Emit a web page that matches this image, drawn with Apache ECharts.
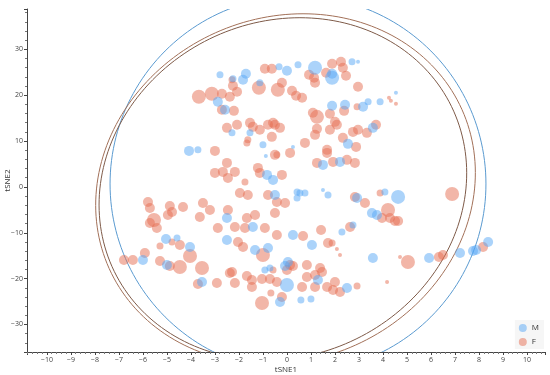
<!DOCTYPE html>
<html><head><meta charset="utf-8">
<script src="https://cdn.jsdelivr.net/npm/echarts@6/dist/echarts.min.js"></script>
<style>html,body{margin:0;padding:0;background:#fff}#c{width:550px;height:375px}</style>
</head><body><div id="c"></div>
<script>
// [tSNE1, tSNE2, sizeClass]
const maleData = [[-2.79,24.45,2],[-1.71,24.67,3],[-1.83,23.36,3],[-2.25,23.58,2],[0,25.33,3],[-0.33,26.2,2],[0.46,26.64,2],[1.17,25.98,4],[1.88,24.67,3],[1.88,23.8,4],[2.71,27.29,2],[2.96,27.29,1],[-1.13,22.7,2],[-2.88,18.56,3],[-2.58,16.81,3],[-1.54,11.79,2],[-2.29,11.79,2],[-1.0,9.17,2],[-4.08,7.86,3],[-3.71,8.08,2],[-0.88,6.77,1],[0.25,8.73,1],[1.88,17.69,3],[2.42,17.9,3],[3.17,17.47,3],[3.38,18.56,2],[3.88,18.56,2],[4.54,20.52,1],[3.58,12.88,3],[2.54,9.39,3],[-2.5,-6.77,3],[-5.04,-11.35,3],[-4.58,-11.14,2],[-4.04,-13.1,3],[-6.0,-15.94,3],[-5.0,-17.03,3],[-2.5,-11.57,3],[-0.83,2.62,3],[-0.58,1.53,3],[1.5,4.8,3],[2.21,5.46,3],[-0.5,-1.75,3],[0.42,-1.09,2],[0.54,-1.31,2],[0.75,-1.31,2],[0.42,-2.4,2],[1.5,-0.66,1],[1.71,-1.75,2],[2.92,-2.4,3],[-1.42,-8.73,3],[0.25,-10.48,3],[1.04,-12.66,3],[2.29,-9.83,2],[2.75,-8.3,2],[-1.33,-13.76,3],[-0.79,-13.32,3],[-0.71,-17.69,2],[0.04,-16.38,3],[4.08,-1.09,2],[4.63,-2.18,4],[3.54,-5.68,3],[3.75,-6.11,3],[3.58,-15.5,3],[5.92,-15.5,3],[7.21,-14.41,3],[7.75,-13.97,3],[7.88,-13.76,3],[8.38,-12.0,3],[-0.92,-18.12,2],[-0.08,-17.25,3],[0,-21.4,4],[1.29,-20.3,3],[2.5,-22.05,3],[-0.29,-25.1,3],[0.58,-24.67,2],[1.0,-24.45,2],[-3.54,-20.74,3]];
const femaleData = [[-2.29,23.36,2],[-0.92,25.76,3],[-0.63,25.76,3],[0.92,24.45,3],[1.13,23.8,3],[1.63,24.89,3],[1.88,26.86,3],[2.25,27.29,3],[2.33,25.98,3],[2.46,24.24,3],[-2.25,22.05,3],[-3.67,19.65,4],[-3.13,20.31,4],[-2.71,20.31,3],[-2.38,19.65,3],[-2.08,20.74,3],[-2.21,16.59,3],[-2.71,16.81,3],[-1.17,21.62,4],[-0.21,22.7,3],[-0.38,21.18,4],[0.21,20.96,3],[0.38,19.87,3],[0.63,19.43,3],[1.17,22.7,3],[2.96,21.83,3],[2.38,16.59,3],[2.92,17.47,2],[4.25,19.43,1],[4.33,18.78,1],[4.54,18.12,1],[-2.5,12.88,3],[-2.08,13.54,3],[-1.54,13.97,3],[-1.42,13.1,3],[-1.13,12.45,3],[-0.79,13.54,3],[-0.5,13.54,3],[-0.63,10.92,3],[-1.63,10.26,2],[-1.67,9.6,2],[-3.0,7.86,3],[-0.58,13.97,3],[-0.29,12.88,3],[1.25,15.28,4],[1.08,16.16,3],[1.79,15.94,3],[2.0,14.19,3],[1.25,12.66,3],[1.17,11.35,3],[1.79,12.45,3],[2.08,13.54,3],[2.33,10.7,3],[2.75,12.0,3],[2.96,12.45,3],[3.33,11.79,3],[3.71,13.54,3],[2.88,8.73,3],[1.67,8.08,3],[0.75,9.6,3],[0.13,7.42,3],[-0.5,6.99,3],[-5.79,-3.28,3],[-5.71,-4.59,3],[-4.88,-4.15,3],[-4.79,-5.46,3],[-4.96,-6.11,3],[-4.33,-4.37,3],[-3.5,-3.49,3],[-3.63,-6.55,3],[-3.21,-5.02,3],[-5.54,-7.21,4],[-5.71,-7.86,3],[-5.42,-8.95,3],[-2.88,-8.95,3],[-4.79,-12.0,2],[-4.46,-12.66,3],[-5.29,-12.88,2],[-4.04,-15.07,4],[-6.79,-15.94,3],[-6.42,-15.94,3],[-5.92,-14.41,3],[-5.29,-16.16,3],[-4.88,-17.25,3],[-4.46,-17.47,4],[-3.54,-17.69,4],[-3.0,3.06,3],[-2.67,3.28,3],[-2.46,1.97,3],[-2.5,5.24,3],[-2.17,3.28,3],[-1.21,4.15,3],[-1.13,3.06,3],[-0.21,2.62,3],[-1.75,1.09,2],[-0.42,6.99,2],[1.25,5.24,3],[1.67,7.42,3],[1.92,5.46,3],[2.5,5.9,3],[2.83,5.24,3],[-1.96,-1.31,3],[-1.63,-1.75,3],[-0.79,-1.75,3],[-0.08,-3.49,3],[-0.42,-3.28,3],[-2.46,-5.02,3],[-1.67,-6.77,3],[-1.75,-8.95,3],[-1.33,-6.11,3],[-2.17,-8.73,3],[-0.5,-5.68,3],[-0.92,-8.95,3],[-0.42,-10.48,3],[0.67,-10.7,3],[1.42,-9.39,3],[1.71,-12.23,3],[1.88,-12.23,2],[2.63,-8.73,3],[2.08,-13.54,1],[2.21,-14.85,1],[-2.04,-12.0,3],[-1.83,-13.1,3],[-1.0,-14.85,4],[0.13,-17.03,3],[0.83,-17.03,3],[1.38,-17.69,3],[2.83,-2.18,3],[3.25,-3.49,3],[3.88,-1.31,2],[6.88,-1.53,4],[3.96,-6.77,3],[4.21,-5.02,4],[4.29,-6.77,3],[4.5,-7.42,3],[4.63,-7.42,3],[4.71,-15.28,1],[5.04,-16.38,4],[6.33,-15.28,3],[6.5,-14.85,3],[8.17,-13.1,3],[-2.38,-18.78,3],[-3.71,-21.18,3],[-2.92,-20.96,3],[-2.17,-20.96,3],[-2.29,-18.56,3],[-1.67,-19.43,3],[-1.46,-20.31,3],[-1.04,-20.09,3],[-0.58,-18.12,2],[-0.71,-20.09,3],[-0.42,-20.74,3],[0.25,-17.25,3],[0,-18.12,3],[-1.46,-21.83,3],[0.63,-21.83,3],[0.83,-19.65,3],[1.17,-19.21,3],[1.46,-18.56,3],[1.17,-21.83,3],[1.67,-21.83,3],[2.0,-20.74,3],[1.92,-22.49,3],[2.21,-22.93,3],[2.92,-21.62,2],[-0.67,-23.14,2],[-0.21,-24.02,3],[-1.04,-25.33,4],[4.17,-20.74,1]];
// confidence ellipses: centre, two conjugate semi-diameters (data units)
const ellipseBlue = {cx:0.46, cy:0.65, ux:7.83, uy:0, vx:0, vy:41.0};
const ellipseBrown1 = {cx:-0.06, cy:-0.44, ux:7.875, uy:0, vx:0.73, vy:38.2};
const ellipseBrown2 = {cx:-0.17, cy:-0.44, ux:7.625, uy:0, vx:0.71, vy:37.34};
const seriesNames = ['M','F'];

const sizeMap = [0,4,7,10,14];
function ellipseSeries(e, color){
  return {
    type:'custom', silent:true, legendHoverLink:false, z:1,
    data:[[e.cx, e.cy]],
    renderItem:function(params, api){
      const pts=[];
      for(let i=0;i<=200;i++){
        const t=i/200*Math.PI*2;
        pts.push(api.coord([e.cx+e.ux*Math.cos(t)+e.vx*Math.sin(t), e.cy+e.uy*Math.cos(t)+e.vy*Math.sin(t)]));
      }
      const cs=params.coordSys;
      return {type:'polyline', shape:{points:pts}, style:{stroke:color, lineWidth:1, fill:null},
        clipPath:{type:'rect', shape:{x:cs.x, y:cs.y, width:cs.width, height:cs.height}}};
    }
  };
}
const minus = v => String(v).replace('-', '\u2212');
const chart = echarts.init(document.getElementById('c'));
chart.setOption({
  animation:false,
  grid:{left:27, right:5, top:9, bottom:23, containLabel:false, outerBoundsMode:'none'},
  legend:{
    data:seriesNames, orient:'vertical', right:6, bottom:26, itemWidth:8, itemHeight:8, itemGap:6,
    icon:'circle', backgroundColor:'rgba(240,240,240,0.6)', padding:[4,5,3,4],
    textStyle:{fontSize:8, color:'#333', fontFamily:'Open Sans'}
  },
  xAxis:{
    type:'value', min:-10.83, max:10.75, splitNumber:22,
    name:'tSNE1', nameLocation:'middle', nameGap:14, nameMoveOverlap:false,
    nameTextStyle:{fontSize:8,color:'#333',fontFamily:'Open Sans'},
    axisLine:{onZero:false, lineStyle:{color:'#444'}},
    axisTick:{show:true, length:3, inside:false, lineStyle:{color:'#444'}},
    minorTick:{show:true, splitNumber:5, length:2, lineStyle:{color:'#777'}},
    axisLabel:{fontSize:7, color:'#444', fontFamily:'Open Sans', margin:4, showMinLabel:false, showMaxLabel:false, formatter:minus},
    splitLine:{show:false}
  },
  yAxis:{
    type:'value', min:-36, max:38.8, splitNumber:8,
    name:'tSNE2', nameLocation:'middle', nameGap:15, nameMoveOverlap:false, nameRotate:90,
    nameTextStyle:{fontSize:8,color:'#333',fontFamily:'Open Sans'},
    axisLine:{onZero:false, lineStyle:{color:'#444'}},
    axisTick:{show:true, length:3, lineStyle:{color:'#444'}},
    minorTick:{show:true, splitNumber:5, length:2, lineStyle:{color:'#777'}},
    axisLabel:{fontSize:7, color:'#444', fontFamily:'Open Sans', margin:4, showMinLabel:false, showMaxLabel:false, formatter:minus},
    splitLine:{show:false}
  },
  series:[
    {name:'M', type:'scatter', data:maleData, z:3, symbolSize:v=>sizeMap[v[2]],
      itemStyle:{color:'rgba(85,165,245,0.62)'}},
    {name:'F', type:'scatter', data:femaleData, z:2, symbolSize:v=>sizeMap[v[2]],
      itemStyle:{color:'rgba(228,108,78,0.62)'}},
    ellipseSeries(ellipseBlue, '#5a9ad0'),
    ellipseSeries(ellipseBrown1, '#a27058'),
    ellipseSeries(ellipseBrown2, '#7e5a48')
  ]
});
</script></body></html>
